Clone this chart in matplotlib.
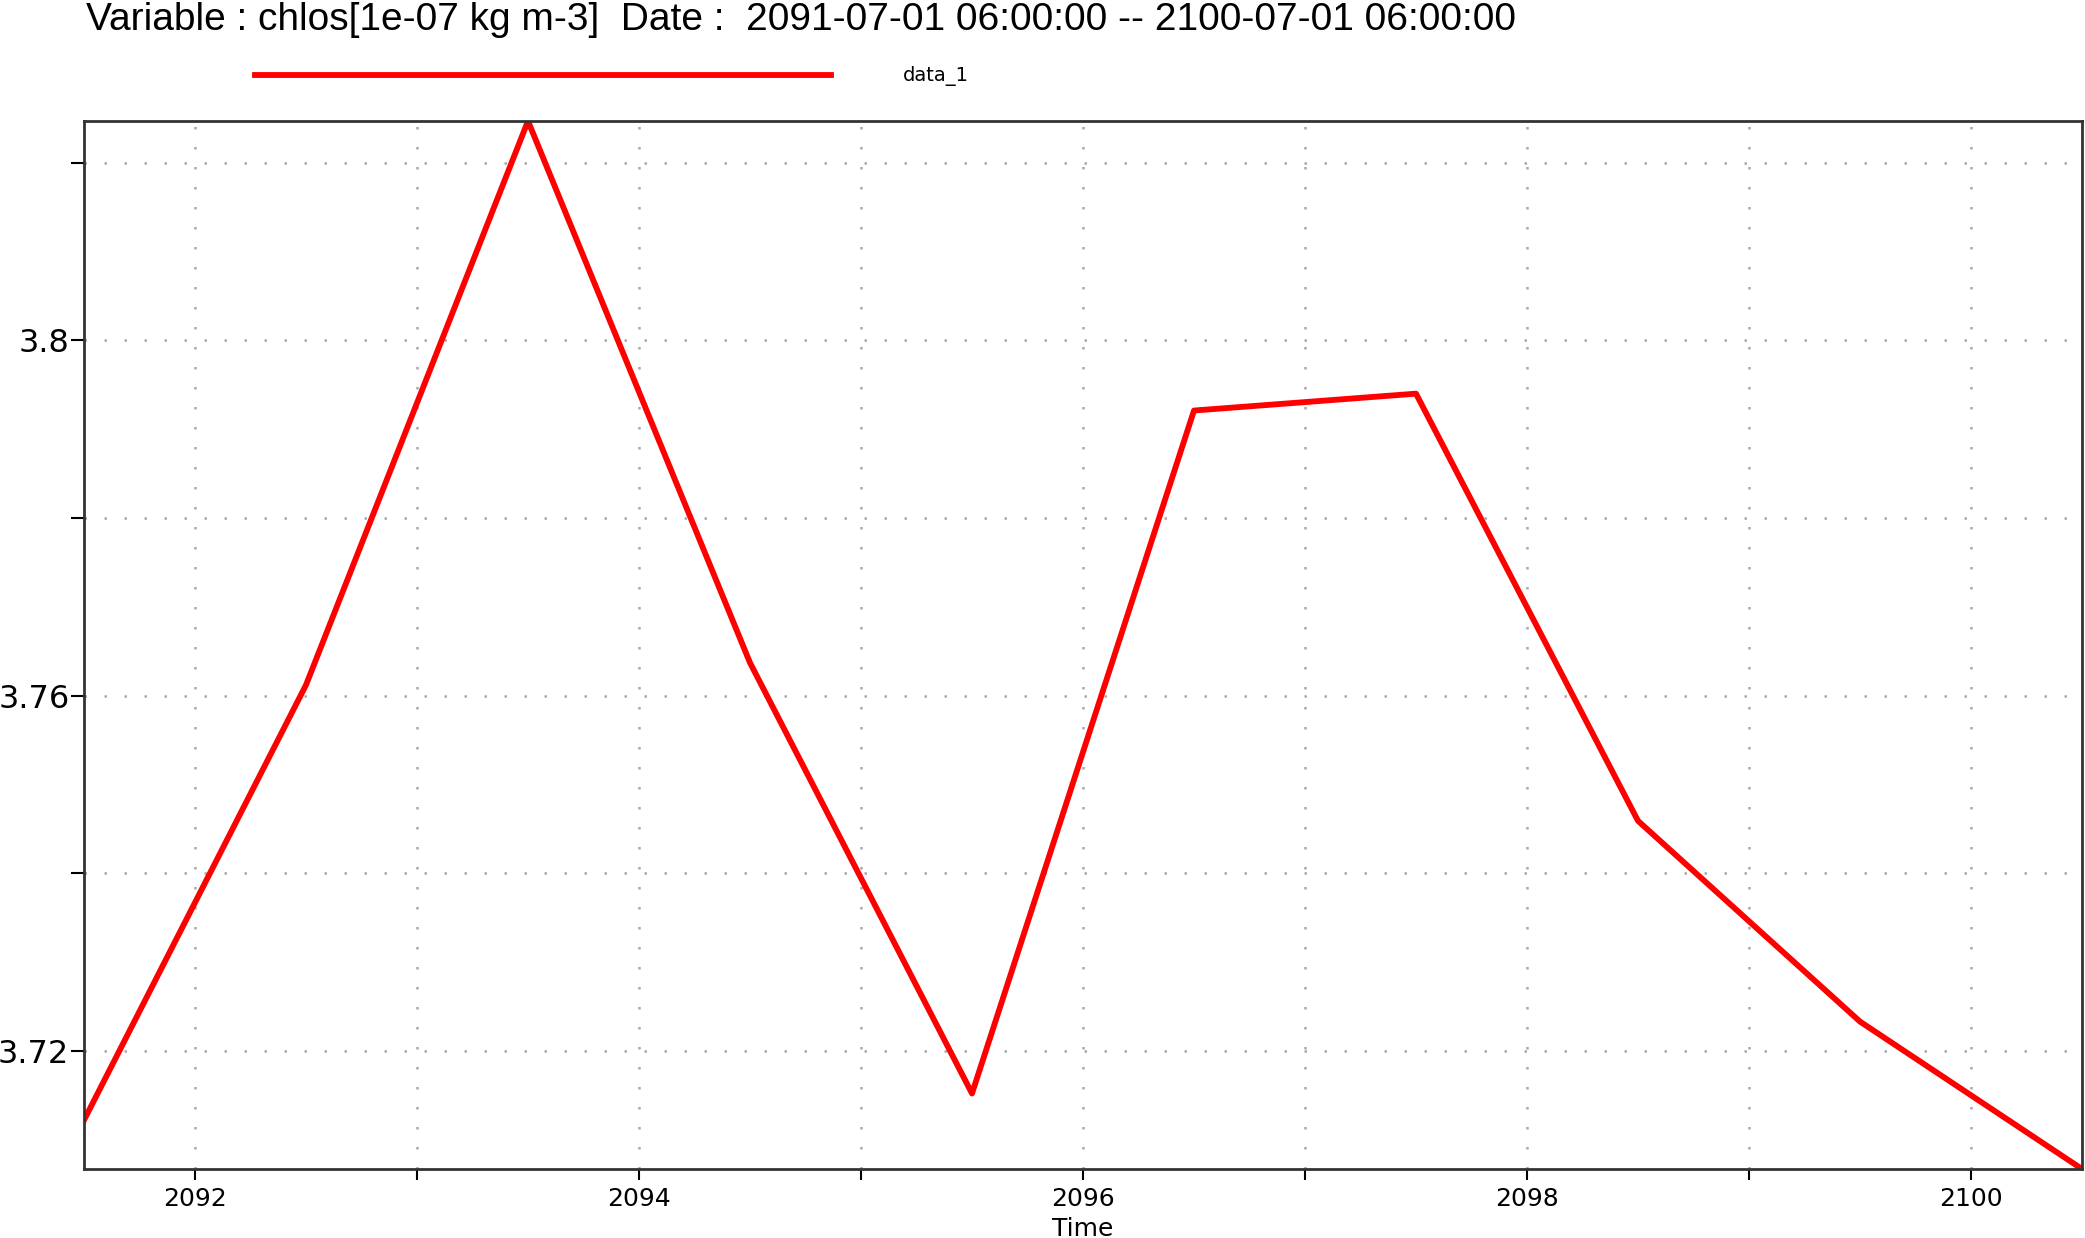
import matplotlib
matplotlib.use("Agg")
import matplotlib.pyplot as plt
from matplotlib.ticker import MultipleLocator, FuncFormatter

# yearly means, mid-year (07-01) time stamps
years = [2091.5, 2092.5, 2093.5, 2094.5, 2095.5, 2096.5, 2097.5, 2098.5, 2099.5, 2100.5]
chlos = [3.7122, 3.7612, 3.8247, 3.7637, 3.7152, 3.7921, 3.7940, 3.7459, 3.7233, 3.7067]

title = "Variable : chlos[1e-07 kg m-3]  Date :  2091-07-01 06:00:00 -- 2100-07-01 06:00:00"

fig = plt.figure(figsize=(20.85, 12.38), dpi=100)
ax = fig.add_axes([84 / 2085, 1 - 1169 / 1238, (2082 - 84) / 2085, (1169 - 121) / 1238])

ax.plot(years, chlos, color="red", lw=4.2, label="data_1")
ax.set_xlim(min(years), max(years))
ax.set_ylim(min(chlos), max(chlos))

ax.xaxis.set_major_locator(MultipleLocator(1))
ax.yaxis.set_major_locator(MultipleLocator(0.02))
ax.xaxis.set_major_formatter(FuncFormatter(lambda v, p: "%d" % round(v) if round(v) % 2 == 0 else ""))
ax.yaxis.set_major_formatter(FuncFormatter(lambda v, p: "%g" % round(v, 2) if round(v / 0.02) % 2 == 0 else ""))

ax.grid(True, color="#a8a8a8", linestyle=(0, (1, 7)), lw=1.8)
for s in ax.spines.values():
    s.set_linewidth(2)
    s.set_color("#333333")
ax.tick_params(axis="y", direction="out", length=9.5, width=1.5, labelsize=23, pad=1)
ax.tick_params(axis="x", direction="out", length=8, width=1.5, labelsize=18, pad=5)
ax.set_xlabel("Time", fontsize=18, labelpad=4)

fig.text(86 / 2085, 1 - 30 / 1238, title, family="Liberation Sans", fontsize=28, va="baseline", ha="left")
fig.legend(loc="center left", bbox_to_anchor=(255 / 2085, 1 - 76.5 / 1238), bbox_transform=fig.transFigure,
           frameon=False, fontsize=14, handlelength=29.6, handletextpad=3.7, borderpad=0, borderaxespad=0)

fig.savefig("out.png", dpi=100)
